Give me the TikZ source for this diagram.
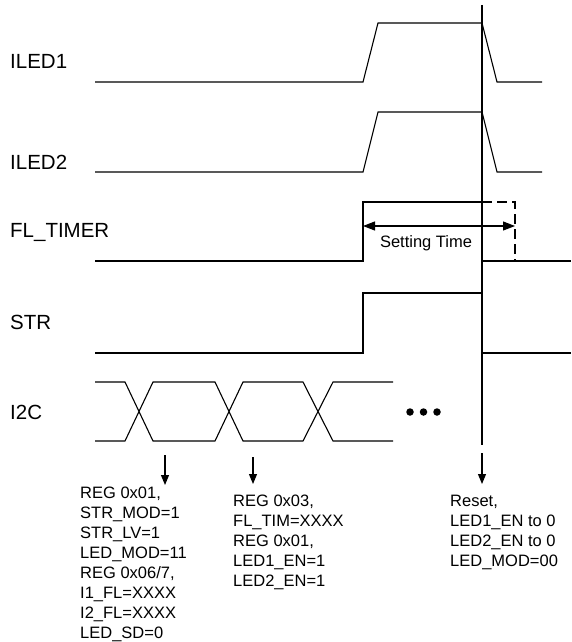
\documentclass[tikz,border=0pt]{standalone}
\usepackage{fontspec}
\setmainfont{Liberation Sans}
\usetikzlibrary{arrows.meta}
\begin{document}
\begin{tikzpicture}[x=1pt,y=-1pt,
  wave/.style={line width=1.1pt, line join=miter},
  sig/.style={anchor=base west, inner sep=0pt, font=\fontsize{20.5}{24}\selectfont},
  note/.style={anchor=north west, inner sep=0pt, align=left, font=\fontsize{16.5}{20}\selectfont},
  downarrow/.style={line width=1.1pt, -{Triangle[length=10pt,width=8pt]}},
  dot/.style={circle, fill=black, inner sep=0pt, minimum size=7.5pt},
]
\useasboundingbox (0,0) rectangle (571,642);
% signal labels
\node[sig] (l1) at (10,69) {ILED1};
\node[sig] (l2) at (10,169) {ILED2};
\node[sig] (l3) at (10,237) {FL\_TIMER};
\node[sig] (l4) at (10,329) {STR};
\node[sig] (l5) at (10,419) {I2C};
% ILED1
\draw[wave] (95,82) -- (363,82) -- (378,23) -- (482,23) -- (497,82) -- (542,82);
% ILED2
\draw[wave] (95,172) -- (363,172) -- (378,112) -- (482,112) -- (497,172) -- (542,172);
% FL_TIMER
\draw[wave] (95,261) -- (363,261) -- (363,202) -- (482,202);
\draw[wave] (482,261) -- (571,261);
\draw[wave, dash pattern=on 10pt off 5pt] (482,202) -- (515,202) -- (515,261);
% Setting time
\coordinate (st1) at (363,226);
\coordinate (st2) at (515,226);
\draw[line width=1.1pt, {Triangle[length=12pt,width=9pt]}-{Triangle[length=12pt,width=9pt]}] (st1) -- (st2);
\node[inner sep=0pt, font=\fontsize{16.5}{20}\selectfont] (stt) at (426,243) {Setting Time};
% STR
\draw[wave] (95,353) -- (363,353) -- (363,293) -- (482,293) -- (482,353) -- (571,353);
% I2C
\draw[wave] (95,382) -- (125,382) -- (153,441) -- (215,441) -- (243,382) -- (303,382) -- (333,441) -- (393,441);
\draw[wave] (95,441) -- (125,441) -- (153,382) -- (215,382) -- (243,441) -- (303,441) -- (333,382) -- (393,382);
\node[dot] (d1) at (410,412) {};
\node[dot] (d2) at (423.5,412) {};
\node[dot] (d3) at (437,412) {};
% vertical reset line
\coordinate (vt) at (482,5);
\coordinate (vb) at (482,445);
\draw[wave] (vt) -- (vb);
% arrows
\coordinate (a1s) at (165,455);
\coordinate (a1e) at (165,485);
\coordinate (a2s) at (253,457);
\coordinate (a2e) at (253,484);
\coordinate (a3s) at (482,453);
\coordinate (a3e) at (482,484);
\draw[downarrow] (a1s) -- (a1e);
\draw[downarrow] (a2s) -- (a2e);
\draw[downarrow] (a3s) -- (a3e);
% notes
\node[note] (t1) at (80,487) {REG 0x01,\\STR\_MOD=1\\STR\_LV=1\\LED\_MOD=11\\REG 0x06/7,\\I1\_FL=XXXX\\I2\_FL=XXXX\\LED\_SD=0};
\node[note] (t2) at (233,495) {REG 0x03,\\FL\_TIM=XXXX\\REG 0x01,\\LED1\_EN=1\\LED2\_EN=1};
\node[note] (t3) at (450,495) {Reset,\\LED1\_EN to 0\\LED2\_EN to 0\\LED\_MOD=00};
\end{tikzpicture}
\end{document}
